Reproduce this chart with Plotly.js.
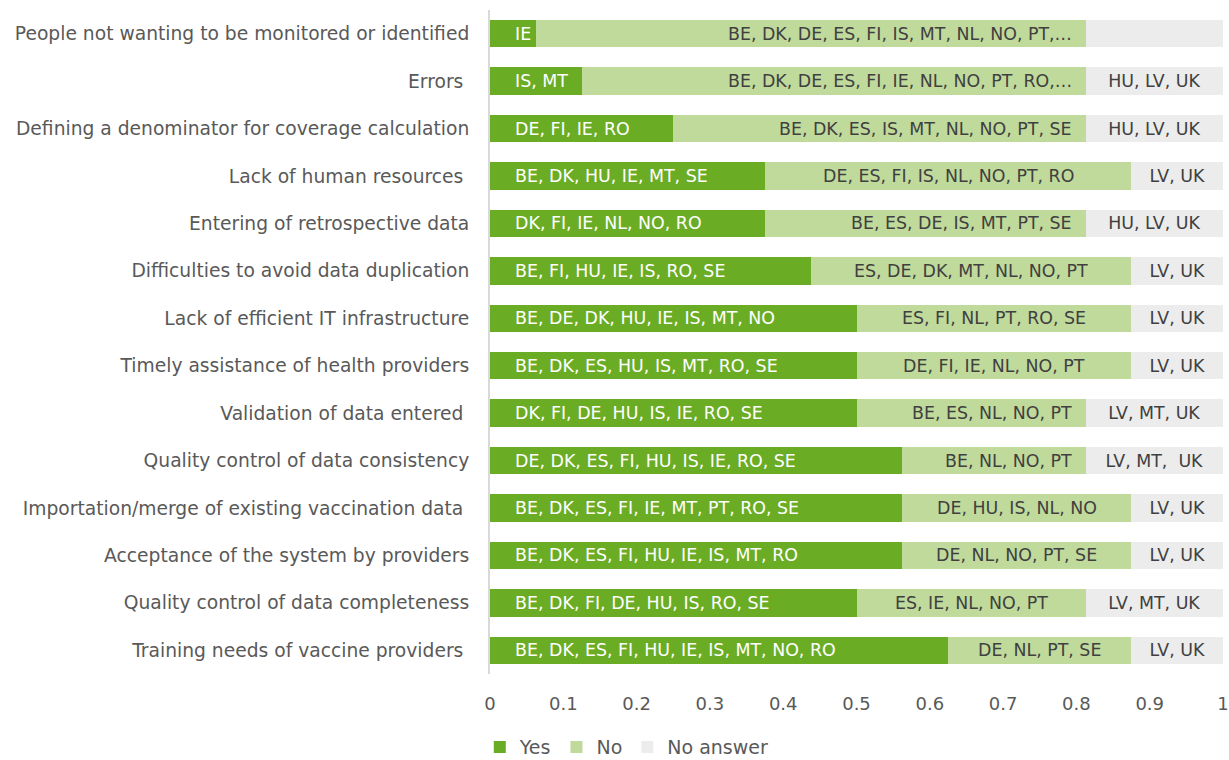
<!DOCTYPE html>
<html>
<head>
<meta charset="utf-8">
<script src="https://cdn.plot.ly/plotly-3.0.1.min.js"></script>
<style>html,body{margin:0;padding:0;background:#fff;}#chart{width:1229px;height:760px;}</style>
</head>
<body>
<div id="chart"></div>
<script>
var categories = [
  "People not wanting to be monitored or identified",
  "Errors\u00a0",
  "Defining a denominator for coverage calculation",
  "Lack of human resources\u00a0",
  "Entering of retrospective data",
  "Difficulties to avoid data duplication",
  "Lack of efficient IT infrastructure",
  "Timely assistance of health providers",
  "Validation of data entered\u00a0",
  "Quality control of data consistency",
  "Importation/merge of existing vaccination data\u00a0",
  "Acceptance of the system by providers",
  "Quality control of data completeness",
  "Training needs of vaccine providers\u00a0"
];
var yesValues = [0.0625, 0.125, 0.25, 0.375, 0.375, 0.4375, 0.5, 0.5, 0.5, 0.5625, 0.5625, 0.5625, 0.5, 0.625];
var noValues  = [0.75, 0.6875, 0.5625, 0.5, 0.4375, 0.4375, 0.375, 0.375, 0.3125, 0.25, 0.3125, 0.3125, 0.3125, 0.25];
var naValues  = [0.1875, 0.1875, 0.1875, 0.125, 0.1875, 0.125, 0.125, 0.125, 0.1875, 0.1875, 0.125, 0.125, 0.1875, 0.125];
var yesLabels = [
  "IE", "IS, MT", "DE, FI, IE, RO", "BE, DK, HU, IE, MT, SE", "DK, FI, IE, NL, NO, RO",
  "BE, FI, HU, IE, IS, RO, SE", "BE, DE, DK, HU, IE, IS, MT, NO", "BE, DK, ES, HU, IS, MT, RO, SE",
  "DK, FI, DE, HU, IS, IE, RO, SE", "DE, DK, ES, FI, HU, IS, IE, RO, SE",
  "BE, DK, ES, FI, IE, MT, PT, RO, SE", "BE, DK, ES, FI, HU, IE, IS, MT, RO",
  "BE, DK, FI, DE, HU, IS, RO, SE", "BE, DK, ES, FI, HU, IE, IS, MT, NO, RO"
];
var noLabels = [
  "BE, DK, DE, ES, FI, IS, MT, NL, NO, PT,\u2026", "BE, DK, DE, ES, FI, IE, NL, NO, PT, RO,\u2026",
  "BE, DK, ES, IS, MT, NL, NO, PT, SE", "DE, ES, FI, IS, NL, NO, PT, RO", "BE, ES, DE, IS, MT, PT, SE",
  "ES, DE, DK, MT, NL, NO, PT", "ES, FI, NL, PT, RO, SE", "DE, FI, IE, NL, NO, PT",
  "BE, ES, NL, NO, PT", "BE, NL, NO, PT", "DE, HU, IS, NL, NO", "DE, NL, NO, PT, SE",
  "ES, IE, NL, NO, PT", "DE, NL, PT, SE"
];
var naLabels = [
  "", "HU, LV, UK", "HU, LV, UK", "LV, UK", "HU, LV, UK", "LV, UK", "LV, UK", "LV, UK",
  "LV, MT, UK", "LV, MT,\u00a0 UK", "LV, UK", "LV, UK", "LV, MT, UK", "LV, UK"
];
var seriesNames = ["Yes", "No", "No answer"];
var tickValues = [0, 0.1, 0.2, 0.3, 0.4, 0.5, 0.6, 0.7, 0.8, 0.9, 1];
var tickLabels = ["0", "0.1", "0.2", "0.3", "0.4", "0.5", "0.6", "0.7", "0.8", "0.9", "1"];

// style settings (not data)
var seriesColors = ["#6aad25", "#c0da9c", "#ececec"];
var noLabelAlign = ["end", "end", "end", "mid", "end", "mid", "mid", "mid", "end", "end", "mid", "mid", "mid", "mid"];
var FONT = "DejaVu Sans, Verdana, sans-serif";
var BAR_FONT = 17.4;

function barTrace(name, vals, labels, color, txtColor, anchor, tmpl) {
  return {
    type: "bar", orientation: "h", name: name,
    y: categories, x: vals, text: labels,
    texttemplate: tmpl, textposition: labels ? "inside" : "none", insidetextanchor: anchor,
    textangle: 0, constraintext: "none", cliponaxis: false,
    textfont: {family: FONT, size: BAR_FONT, color: txtColor},
    marker: {color: color, line: {width: 0}},
    hoverinfo: "skip"
  };
}
var data = [
  barTrace(seriesNames[0], yesValues, yesLabels, seriesColors[0], "#ffffff", "start", "\u00a0\u00a0\u00a0\u00a0%{text}"),
  barTrace(seriesNames[1], noValues, null, seriesColors[1], "#404040", "middle", ""),
  barTrace(seriesNames[2], naValues, naLabels, seriesColors[2], "#404040", "middle", "%{text}")
];

// labels of the "No" segments, placed from the data
var annotations = categories.map(function (c, i) {
  var isEnd = noLabelAlign[i] === "end";
  return {
    xref: "x", yref: "y", y: c,
    x: isEnd ? yesValues[i] + noValues[i] : yesValues[i] + noValues[i] / 2,
    xanchor: isEnd ? "right" : "center", yanchor: "middle",
    xshift: isEnd ? -12 : 0,
    text: noLabels[i], showarrow: false,
    font: {family: FONT, size: BAR_FONT, color: "#404040"}
  };
});

var layout = {
  width: 1229, height: 760,
  margin: {l: 490, r: 6, t: 10, b: 86, pad: 0},
  paper_bgcolor: "#ffffff", plot_bgcolor: "#ffffff",
  barmode: "stack", bargap: 0.42,
  font: {family: FONT, color: "#595959"},
  xaxis: {
    range: [0, 1], tickmode: "array", tickvals: tickValues, ticktext: tickLabels,
    showgrid: false, zeroline: false, showline: false,
    ticks: "outside", ticklen: 13, tickcolor: "rgba(0,0,0,0)",
    ticklabeloverflow: "allow",
    tickfont: {family: FONT, size: 18, color: "#595959"}, fixedrange: true
  },
  yaxis: {
    type: "category", autorange: "reversed", showgrid: false, zeroline: false,
    showline: true, linecolor: "#d9d9d9", linewidth: 2,
    ticks: "outside", ticklen: 15, tickcolor: "rgba(0,0,0,0)",
    tickfont: {family: FONT, size: 18.7, color: "#595959"}, fixedrange: true
  },
  annotations: annotations,
  showlegend: true,
  legend: {
    orientation: "h", xref: "container", yref: "container",
    x: 0.51, xanchor: "center", y: 0.017, yanchor: "middle",
    font: {family: FONT, size: 19, color: "#595959"},
    traceorder: "normal", itemwidth: 30
  }
};
Plotly.newPlot("chart", data, layout, {staticPlot: true, displayModeBar: false});
</script>
</body>
</html>
